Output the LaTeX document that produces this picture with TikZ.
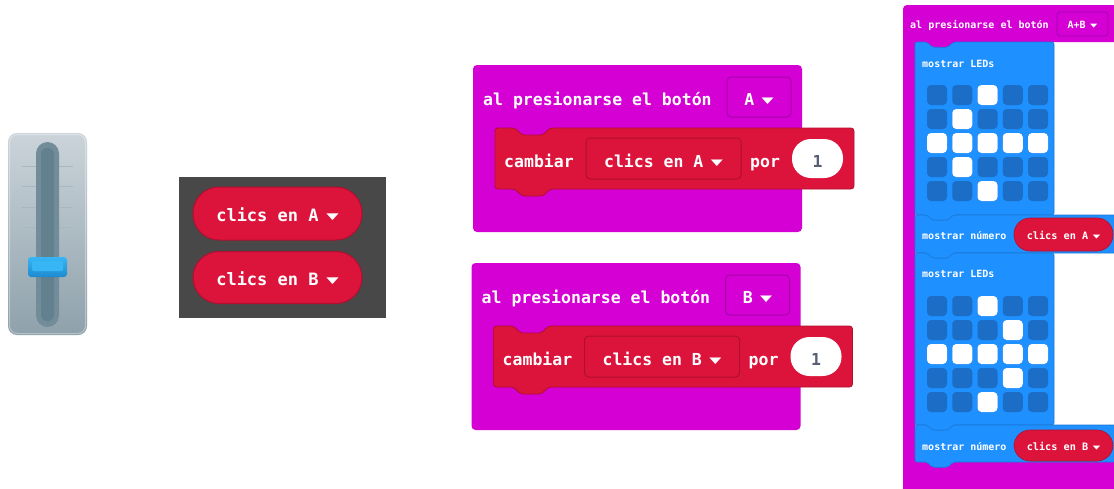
\documentclass[tikz,border=0pt]{standalone}
\usepackage{fontspec}
\newfontfamily\blk{DejaVu Sans Mono Bold}
\newfontfamily\sym{DejaVu Sans}
\definecolor{mag}{HTML}{D400D4}
\definecolor{magdark}{HTML}{A600AA}
\definecolor{crim}{HTML}{DC143C}
\definecolor{crimdark}{HTML}{B00F30}
\definecolor{bblue}{HTML}{1E90FF}
\definecolor{bbluedark}{HTML}{1A78D6}
\definecolor{ledoff}{HTML}{1B6DC6}
\definecolor{panel}{HTML}{484848}
\definecolor{numgrey}{HTML}{575E75}
\definecolor{slA}{HTML}{CBD4DA}
\definecolor{slB}{HTML}{8EA1AB}
\definecolor{trackout}{HTML}{738C99}
\definecolor{trackin}{HTML}{62808E}
\definecolor{tickc}{HTML}{A9B8C0}
\definecolor{hdlA}{HTML}{1E8AD0}
\definecolor{hdlB}{HTML}{38B6F4}
\newcommand\dd{\hspace{0.45em}\raisebox{0.12em}{\scalebox{0.95}[0.52]{\sym ▼}}}
% x1 y1 x2 y2 notch-offset notch-scale
\newcommand\stackpath[6]{(#1,#2) -- ({#1+#5},#2) -- ({#1+#5+7*#6},{#2+7*#6}) -- ({#1+#5+28*#6},{#2+7*#6}) -- ({#1+#5+35*#6},#2) -- (#3,#2) -- (#3,#4) -- ({#1+#5+35*#6},#4) -- ({#1+#5+28*#6},{#4+7*#6}) -- ({#1+#5+7*#6},{#4+7*#6}) -- ({#1+#5},#4) -- (#1,#4) -- cycle}
\tikzset{
  txtL/.style={inner sep=0pt, text=white, font=\blk\fontsize{16.5}{18}\selectfont, anchor=base west},
  txtS/.style={inner sep=0pt, text=white, font=\blk\fontsize{10}{12}\selectfont, anchor=base west},
  boxL/.style={inner sep=0pt, font=\blk\fontsize{16.5}{18}\selectfont, text=white, text height=17pt, text depth=0pt, line width=1pt, rounded corners=4pt},
  magdrop/.style={boxL, fill=mag, draw=magdark, text height=16pt},
  reddrop/.style={boxL, fill=crim, draw=crimdark},
  numoval/.style={boxL, fill=white, draw=none, text=numgrey, rounded corners=19pt},
  panelpill/.style={inner sep=0pt, font=\blk\fontsize{17}{19}\selectfont, text=white, text height=16.4pt, text depth=0pt, fill=crim, draw=crimdark, line width=1pt, rounded corners=26pt, minimum width=169pt},
  smallpill/.style={inner sep=0pt, font=\blk\fontsize{10.2}{12}\selectfont, text=white, text height=9.8pt, text depth=0pt, fill=crim, draw=crimdark, line width=0.6pt, rounded corners=16pt, minimum width=99pt},
  smallmagdrop/.style={inner sep=0pt, font=\blk\fontsize{10}{12}\selectfont, text=white, text height=9pt, text depth=0pt, fill=mag, draw=magdark, line width=0.8pt, rounded corners=3pt, minimum width=51pt, minimum height=24pt},
  blueblock/.style={fill=bblue, draw=bbluedark, line width=0.6pt, rounded corners=2pt},
  led/.style={rounded corners=4pt}
}
\newcommand\mainblock[2]{%
  \fill[mag, rounded corners=4pt] (473,65) rectangle (802,232);
  \node[txtL] (#2title) at (483,105) {al presionarse el botón};
  \node[magdrop, minimum width=64pt, minimum height=40pt] (#2btn) at (759,97) {#1\dd};
  \filldraw[crim, draw=crimdark, line width=0.8pt, rounded corners=3pt] \stackpath{495}{128}{854}{189}{20}{1};
  \node[txtL] (#2camb) at (504,167) {cambiar};
  \node[reddrop, minimum width=155pt, minimum height=41pt] (#2var) at (663.5,158.5) {clics en #1\dd};
  \node[txtL] (#2por) at (750,167) {por};
  \node[numoval, minimum width=51pt, minimum height=39pt] (#2num) at (817.5,158.5) {1};
}
\newcommand\leds[2]{% top y, list of on cells c/r
  \foreach \c in {0,...,4}{\foreach \r in {0,...,4}{
    \fill[ledoff, led] ({927+\c*25.25},{#1+\r*24}) rectangle ++(20,20);}}
  \foreach \c/\r in {#2}{\fill[white, led] ({927+\c*25.25},{#1+\r*24}) rectangle ++(20,20);}
}
\begin{document}
\begin{tikzpicture}[x=1pt,y=-1pt]
\useasboundingbox (0,0) rectangle (1114,488);
\clip (0,0) rectangle (1114,488);
\fill[white] (0,0) rectangle (1114,488);

% ---------- slider ----------
\shade[top color=slA, bottom color=slB, rounded corners=9pt] (8,133) rectangle (87,335);
\draw[white, opacity=0.35, line width=1pt, rounded corners=8pt] (9.5,134.5) rectangle (85.5,333.5);
\foreach \y in {166,186,207,227,247} \draw[tickc, line width=0.8pt] (22,\y) -- (73,\y);
\fill[trackout, rounded corners=11.5pt] (36,142) rectangle (59,327);
\fill[trackin, rounded corners=6pt] (41,148) rectangle (54,321);
\shade[top color=hdlB, bottom color=hdlA, rounded corners=3pt] (28,257) rectangle (67,277);
\fill[hdlB, rounded corners=2pt] (32,261) rectangle (63,271);

% ---------- variable panel ----------
\fill[panel] (179,177) rectangle (386,318);
\node[panelpill, minimum height=53pt] (pillA) at (277.5,213.5) {clics en A\dd};
\node[panelpill, minimum height=52pt] (pillB) at (277.5,277.5) {clics en B\dd};

% ---------- button blocks ----------
\mainblock{A}{a}
\begin{scope}[shift={(-1.5,198)}]
\mainblock{B}{b}
\end{scope}

% ---------- A+B block ----------
\fill[mag, rounded corners=4pt] (903,5) -- (1118,5) -- (1118,42) -- (970,42) -- (970,52) -- (915,52) -- (915,462) -- (1118,462) -- (1118,495) -- (903,495) -- cycle;
\node[txtS] (abtitle) at (910,28.5) {al presionarse el botón};
\node[smallmagdrop] (abbtn) at (1082.5,24) {A+B\dd};

\filldraw[blueblock] \stackpath{915}{42}{1054}{215}{12}{0.75};
\node[txtS] (leds1) at (922,67) {mostrar LEDs};
\leds{85}{2/0,1/1,0/2,1/2,2/2,3/2,4/2,1/3,2/4}

\filldraw[blueblock] \stackpath{915}{215}{1125}{253}{12}{0.75};
\node[txtS] (numA) at (922,239) {mostrar número};
\node[smallpill, minimum height=33pt] (pillsA) at (1063.5,234.5) {clics en A\dd};

\filldraw[blueblock] \stackpath{915}{253}{1054}{425}{12}{0.75};
\node[txtS] (leds2) at (922,277) {mostrar LEDs};
\leds{296}{2/0,3/1,0/2,1/2,2/2,3/2,4/2,3/3,2/4}

\filldraw[blueblock] \stackpath{915}{425}{1125}{462}{12}{0.75};
\node[txtS] (numB) at (922,450.5) {mostrar número};
\node[smallpill, minimum height=31pt] (pillsB) at (1063.5,445.5) {clics en B\dd};
\end{tikzpicture}
\end{document}
